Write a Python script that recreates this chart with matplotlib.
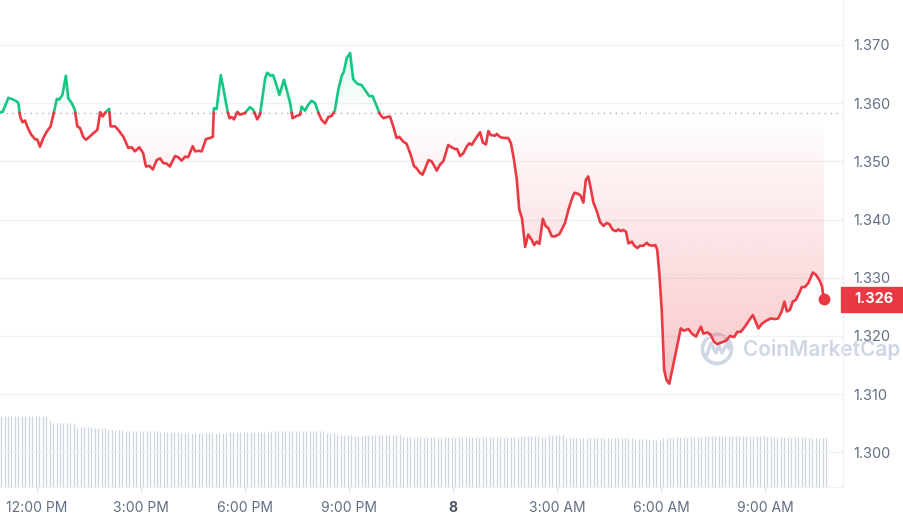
import numpy as np
import matplotlib.pyplot as plt
from matplotlib.patches import Polygon, Rectangle, Ellipse
from matplotlib.transforms import blended_transform_factory

plt.rcParams['font.family'] = ['Inter', 'DejaVu Sans']

# time in hours since midnight of the 7th (24 = "8", 27 = 3:00 AM ...)
hours = [10.93, 11.01, 11.17, 11.27, 11.41, 11.46, 11.51, 11.58, 11.65, 11.75,
         11.84, 11.94, 12.01, 12.08, 12.18, 12.28, 12.39, 12.47, 12.57, 12.64,
         12.73, 12.83, 12.90, 13.00, 13.09, 13.16, 13.24, 13.33, 13.41, 13.51,
         13.62, 13.74, 13.82, 13.89, 13.99, 14.08, 14.12, 14.25, 14.34, 14.49,
         14.63, 14.73, 14.82, 14.95, 15.06, 15.14, 15.24, 15.34, 15.45, 15.55,
         15.64, 15.74, 15.83, 15.98, 16.07, 16.17, 16.27, 16.36, 16.49, 16.56,
         16.65, 16.75, 16.87, 16.99, 17.07, 17.10, 17.18, 17.30, 17.39, 17.49,
         17.55, 17.61, 17.68, 17.78, 17.85, 18.00, 18.14, 18.24, 18.35, 18.43,
         18.58, 18.64, 18.74, 18.81, 18.89, 18.99, 19.12, 19.20, 19.30, 19.37,
         19.49, 19.59, 19.63, 19.73, 19.82, 19.92, 20.02, 20.11, 20.21, 20.31,
         20.40, 20.50, 20.59, 20.69, 20.79, 20.85, 20.93, 21.03, 21.12, 21.24,
         21.36, 21.49, 21.58, 21.68, 21.78, 21.89, 21.99, 22.09, 22.18, 22.28,
         22.37, 22.45, 22.56, 22.66, 22.78, 22.87, 22.95, 23.03, 23.12, 23.22,
         23.29, 23.38, 23.46, 23.53, 23.62, 23.72, 23.86, 23.96, 24.06, 24.12,
         24.20, 24.30, 24.39, 24.47, 24.54, 24.63, 24.78, 24.86, 24.95, 25.02,
         25.09, 25.21, 25.26, 25.37, 25.50, 25.59, 25.67, 25.76, 25.84, 25.91,
         25.99, 26.08, 26.17, 26.27, 26.34, 26.41, 26.49, 26.59, 26.67, 26.75,
         26.85, 26.94, 27.07, 27.23, 27.33, 27.42, 27.50, 27.61, 27.68, 27.76,
         27.83, 27.90, 27.97, 28.05, 28.15, 28.24, 28.34, 28.43, 28.51, 28.61,
         28.70, 28.77, 28.84, 28.91, 28.99, 29.06, 29.16, 29.23, 29.32, 29.39,
         29.49, 29.59, 29.66, 29.76, 29.84, 29.89, 29.95, 30.02, 30.09, 30.16,
         30.24, 30.34, 30.45, 30.57, 30.66, 30.79, 30.89, 31.01, 31.15, 31.22,
         31.34, 31.43, 31.53, 31.62, 31.75, 31.88, 31.99, 32.11, 32.20, 32.30,
         32.42, 32.52, 32.65, 32.74, 32.81, 32.91, 33.03, 33.16, 33.29, 33.38,
         33.48, 33.56, 33.63, 33.72, 33.80, 33.89, 33.99, 34.06, 34.15, 34.25,
         34.38, 34.47, 34.57, 34.64, 34.70]

prices = [1.3584, 1.3585, 1.3609, 1.3607, 1.3603, 1.3600, 1.3577, 1.3567, 1.3570, 1.3555,
          1.3545, 1.3538, 1.3537, 1.3525, 1.3540, 1.3551, 1.3560, 1.3580, 1.3607, 1.3606,
          1.3614, 1.3647, 1.3608, 1.3600, 1.3588, 1.3560, 1.3557, 1.3542, 1.3537, 1.3542,
          1.3548, 1.3554, 1.3584, 1.3577, 1.3585, 1.3590, 1.3560, 1.3560, 1.3554, 1.3542,
          1.3523, 1.3524, 1.3517, 1.3524, 1.3514, 1.3491, 1.3492, 1.3486, 1.3502, 1.3505,
          1.3497, 1.3496, 1.3491, 1.3509, 1.3507, 1.3501, 1.3508, 1.3507, 1.3526, 1.3517,
          1.3518, 1.3517, 1.3538, 1.3540, 1.3542, 1.3591, 1.3590, 1.3648, 1.3620, 1.3587,
          1.3574, 1.3576, 1.3572, 1.3585, 1.3580, 1.3583, 1.3593, 1.3588, 1.3572, 1.3580,
          1.3643, 1.3652, 1.3647, 1.3648, 1.3634, 1.3614, 1.3640, 1.3623, 1.3600, 1.3574,
          1.3578, 1.3580, 1.3594, 1.3587, 1.3597, 1.3604, 1.3600, 1.3584, 1.3571, 1.3565,
          1.3576, 1.3578, 1.3587, 1.3623, 1.3647, 1.3654, 1.3677, 1.3686, 1.3641, 1.3633,
          1.3631, 1.3620, 1.3612, 1.3612, 1.3597, 1.3581, 1.3574, 1.3576, 1.3577, 1.3559,
          1.3540, 1.3542, 1.3534, 1.3530, 1.3511, 1.3492, 1.3488, 1.3481, 1.3477, 1.3491,
          1.3502, 1.3500, 1.3492, 1.3484, 1.3494, 1.3500, 1.3528, 1.3524, 1.3521, 1.3521,
          1.3509, 1.3514, 1.3525, 1.3531, 1.3528, 1.3537, 1.3550, 1.3532, 1.3529, 1.3552,
          1.3545, 1.3544, 1.3547, 1.3541, 1.3540, 1.3540, 1.3531, 1.3502, 1.3468, 1.3417,
          1.3402, 1.3353, 1.3374, 1.3365, 1.3356, 1.3362, 1.3358, 1.3401, 1.3389, 1.3385,
          1.3371, 1.3371, 1.3375, 1.3394, 1.3417, 1.3434, 1.3446, 1.3444, 1.3441, 1.3429,
          1.3468, 1.3474, 1.3454, 1.3429, 1.3414, 1.3396, 1.3389, 1.3394, 1.3392, 1.3382,
          1.3380, 1.3383, 1.3380, 1.3382, 1.3379, 1.3359, 1.3362, 1.3355, 1.3351, 1.3355,
          1.3355, 1.3360, 1.3356, 1.3355, 1.3356, 1.3348, 1.3308, 1.3245, 1.3142, 1.3124,
          1.3118, 1.3147, 1.3179, 1.3213, 1.3209, 1.3212, 1.3204, 1.3199, 1.3216, 1.3204,
          1.3206, 1.3202, 1.3190, 1.3186, 1.3189, 1.3192, 1.3200, 1.3198, 1.3207, 1.3207,
          1.3216, 1.3225, 1.3236, 1.3223, 1.3213, 1.3221, 1.3226, 1.3230, 1.3229, 1.3230,
          1.3242, 1.3259, 1.3242, 1.3245, 1.3259, 1.3262, 1.3274, 1.3284, 1.3284, 1.3291,
          1.3309, 1.3305, 1.3296, 1.3286, 1.3263]

base_price = 1.3583   # dotted reference line (open price)

# volume bars, one every 6 minutes, given as runs of equal height
vol_levels = [142, 134, 128, 120, 118, 114, 112, 110, 108, 110, 112, 108, 104, 102, 104,
              101, 100, 102, 100, 104, 99, 98, 96, 94, 98, 100, 102, 100, 98]
vol_counts = [14, 1, 7, 5, 4, 5, 10, 6, 14, 12, 16, 3, 5, 3, 11,
              20, 14, 6, 2, 5, 11, 9, 5, 3, 3, 9, 18, 12, 6]

tick_hours = [12, 15, 18, 21, 24, 27, 30, 33]
tick_labels = ['12:00 PM', '3:00 PM', '6:00 PM', '9:00 PM', '8', '3:00 AM', '6:00 AM', '9:00 AM']
y_ticks = [1.300, 1.310, 1.320, 1.330, 1.340, 1.350, 1.360, 1.370]

green = '#16c784'
red = '#ea3943'
grid_c = '#eff2f5'
text_c = '#616e85'

t = np.array(hours)
p = np.array(prices)
xlim = (10.93, 35.25)
ylim = (1.29406, 1.3777)

fig = plt.figure(figsize=(9.04, 5.22), dpi=100)
rect = [0, 35 / 522, 843 / 904, 487 / 522]

# volume in its own axes underneath
axv = fig.add_axes(rect)
volume = np.repeat(vol_levels, vol_counts)
bar_t = t[0] + 0.1 * np.arange(len(volume)) + 0.03
axv.vlines(bar_t, 0, volume, color='#cdd5e3', lw=0.9)
axv.set_xlim(xlim)
axv.set_ylim(0, 974)
axv.axis('off')

ax = fig.add_axes(rect)
ax.patch.set_visible(False)
ax.set_xlim(xlim)
ax.set_ylim(ylim)

# insert crossing points with the base line so colours switch cleanly
tt, pp = [t[0]], [p[0]]
for i in range(1, len(t)):
    if (p[i - 1] - base_price) * (p[i] - base_price) < 0:
        f = (base_price - p[i - 1]) / (p[i] - p[i - 1])
        tt.append(t[i - 1] + f * (t[i] - t[i - 1]))
        pp.append(base_price)
    tt.append(t[i])
    pp.append(p[i])
tt = np.array(tt)
pp = np.array(pp)

# gradient fills clipped to the area between line and base
def grad_fill(color, y0, y1, a0, a1, clip_y):
    rgb = np.array(plt.matplotlib.colors.to_rgb(color))
    img = np.zeros((256, 1, 4))
    img[:, 0, :3] = rgb
    img[:, 0, 3] = np.linspace(a0, a1, 256)
    im = ax.imshow(img, extent=[xlim[0], xlim[1], y0, y1], origin='lower',
                   aspect='auto', zorder=2, interpolation='bilinear')
    verts = [(tt[0], base_price)] + list(zip(tt, clip_y)) + [(tt[-1], base_price)]
    poly = Polygon(verts, closed=True, transform=ax.transData)
    im.set_clip_path(poly)

grad_fill(green, base_price, ylim[1], 0.0, 0.30, np.maximum(pp, base_price))
grad_fill(red, ylim[0], base_price, 0.40, 0.0, np.minimum(pp, base_price))
ax.set_xlim(xlim)
ax.set_ylim(ylim)

up = np.where(pp >= base_price, pp, np.nan)
down = np.where(pp <= base_price, pp, np.nan)
ax.plot(tt, up, color=green, lw=1.9, zorder=4, solid_joinstyle='round')
ax.plot(tt, down, color=red, lw=1.9, zorder=4, solid_joinstyle='round')
ax.plot(t[-1], p[-1], 'o', color=red, ms=7.5, zorder=5)

ax.axhline(base_price, color='#a6b0c3', lw=1.0, ls=(0, (1, 3.3)), zorder=1)

# axes styling
ax.set_yticks(y_ticks)
ax.set_yticklabels(['%.3f' % v for v in y_ticks])
ax.yaxis.tick_right()
ax.tick_params(axis='y', length=0, pad=7.5, labelsize=10.5, labelcolor=text_c)
ax.grid(axis='y', color=grid_c, lw=1, zorder=0)
ax.set_xticks(tick_hours)
ax.set_xticklabels(tick_labels)
ax.tick_params(axis='x', length=4, width=1, color='#e3e7ee', pad=6, labelsize=10,
               labelcolor=text_c)
for lab in ax.get_xticklabels():
    if lab.get_text() == '8':
        lab.set_fontweight('bold')
        lab.set_color('#4b5465')
for s in ['top', 'left']:
    ax.spines[s].set_visible(False)
for s in ['right', 'bottom']:
    ax.spines[s].set_color(grid_c)

# watermark
wm = '#cfd6e4'
ax.text(743 / 843, (487 - 350) / 487, 'CoinMarketCap', transform=ax.transAxes,
        fontsize=15, color=wm, fontweight='semibold', va='center', ha='left', zorder=1)
ax.add_patch(Ellipse((717 / 843, (487 - 349) / 487), 29 / 843, 29 / 487,
                     transform=ax.transAxes, fill=False, ec=wm, lw=2.6, zorder=1))
mx = np.array([706, 711, 716, 719, 722, 727, 729]) / 843
my = (487 - np.array([357, 343, 353, 345, 353, 343, 349])) / 487
ax.plot(mx, my, color=wm, lw=2.4, transform=ax.transAxes, zorder=1,
        solid_joinstyle='round', solid_capstyle='round')

# current price tag
trans = blended_transform_factory(fig.transFigure, ax.transData)
tag_h = 25 * (ylim[1] - ylim[0]) / 487
fig.patches.append(Rectangle((841 / 904, p[-1] - tag_h / 2), 63 / 904, tag_h,
                             transform=trans, color=red, zorder=6))
fig.text(854 / 904, p[-1], '%.3f' % p[-1], transform=trans, color='white',
         fontsize=10.5, fontweight='bold', va='center', ha='left', zorder=7)

fig.savefig('out.png', dpi=100, facecolor='white')
